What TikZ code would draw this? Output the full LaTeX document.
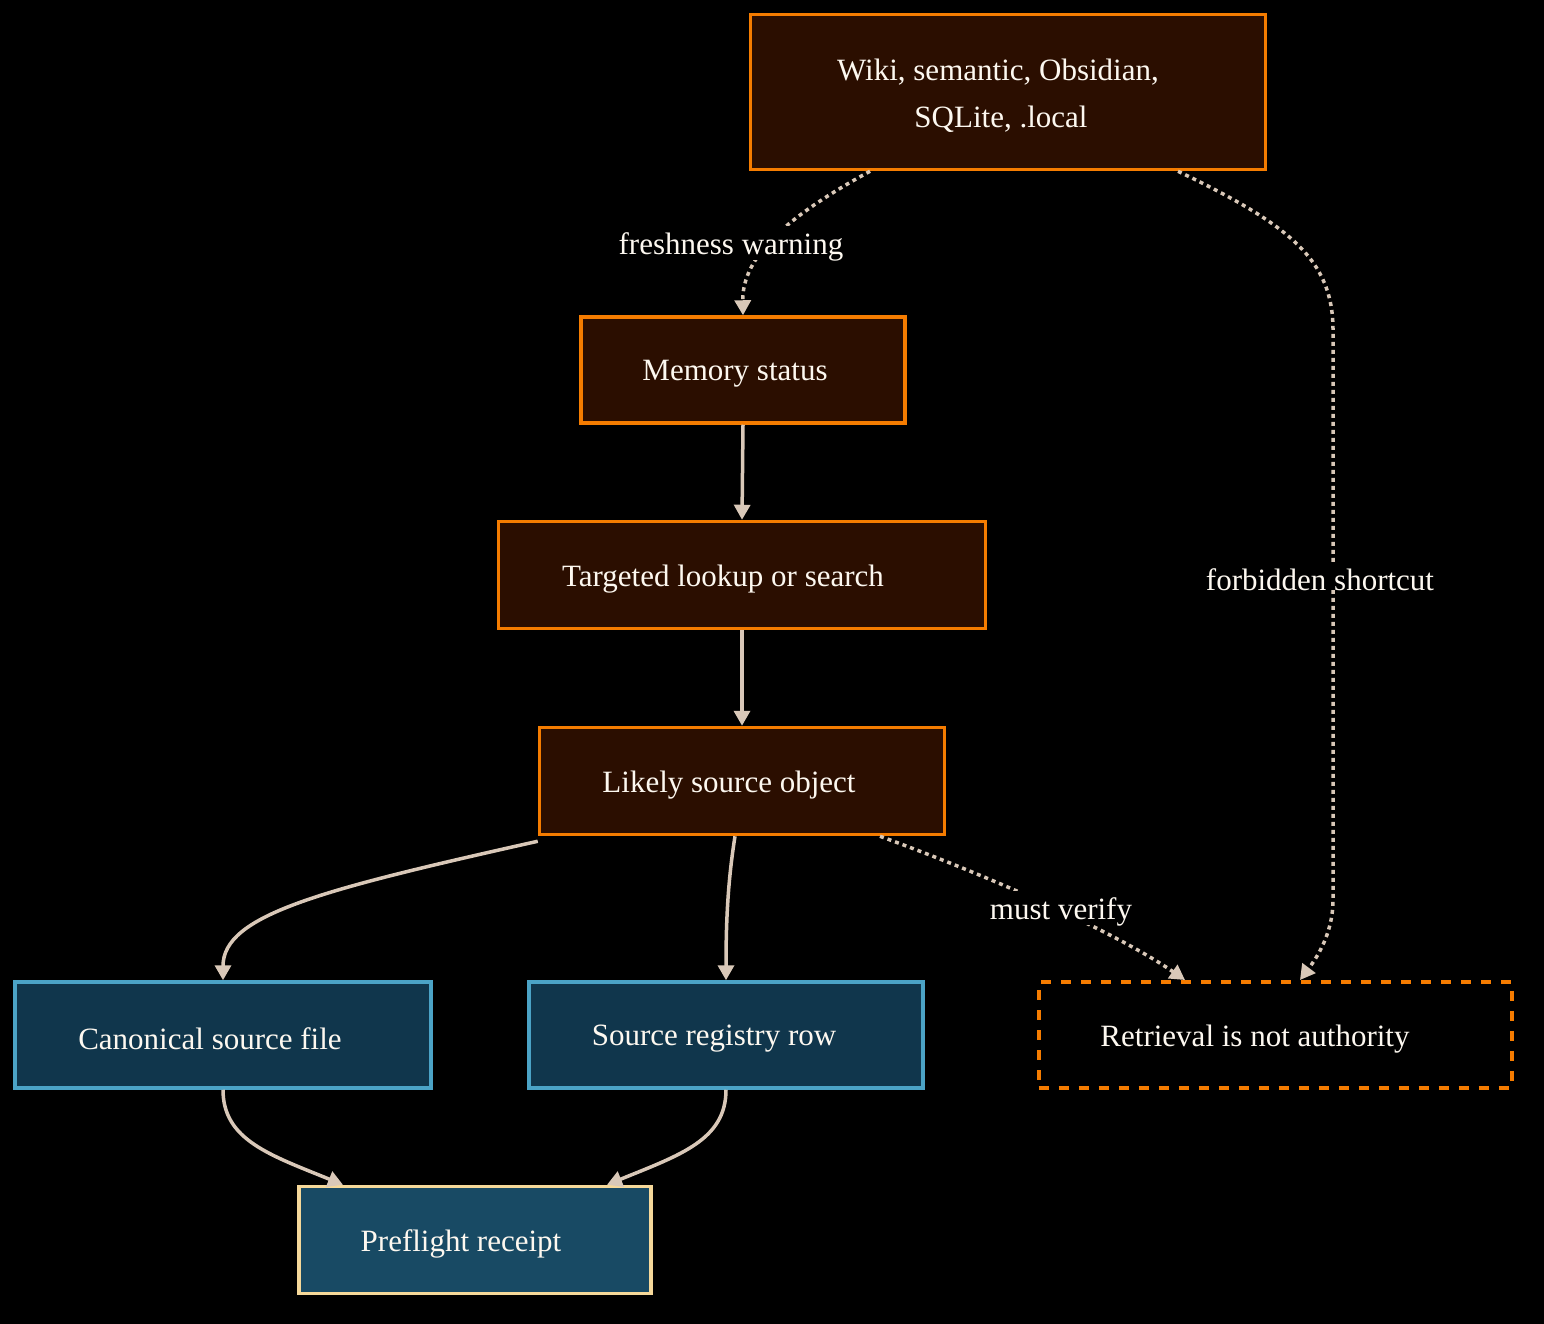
\documentclass[tikz,border=0pt]{standalone}
\usepackage{fontspec}
\setmainfont{Liberation Serif}
\usetikzlibrary{arrows.meta,calc}
\definecolor{bg}{RGB}{0,0,0}
\definecolor{ofill}{RGB}{43,14,0}
\definecolor{oline}{RGB}{245,124,0}
\definecolor{bfill}{RGB}{16,54,76}
\definecolor{bline}{RGB}{75,163,198}
\definecolor{pfill}{RGB}{24,74,100}
\definecolor{pline}{RGB}{245,216,154}
\definecolor{edge}{RGB}{217,200,184}
\definecolor{txt}{RGB}{253,248,240}
\newcommand{\lowtxt}[1]{\raisebox{-4pt}[\height][\depth]{#1}}
\tikzset{
  box/.style={rectangle, line width=3.5pt, text=txt, inner sep=0pt, align=center,
    font=\fontsize{31}{47}\selectfont},
  obox/.style={box, draw=oline, fill=ofill},
  bbox/.style={box, draw=bline, fill=bfill},
  pbox/.style={box, draw=pline, fill=pfill},
  dbox/.style={box, draw=oline, fill=black, dash pattern=on 10pt off 10pt, line width=4pt},
  conn/.style={draw=edge, line width=3.5pt, -{Triangle[length=15pt,width=16pt]}},
  dconn/.style={conn, dash pattern=on 4pt off 4pt},
  elabel/.style={fill=black, text=txt, inner sep=3pt, font=\fontsize{31}{36}\selectfont}
}
\begin{document}
\begin{tikzpicture}[x=1pt,y=-1pt]
\fill[bg] (0,0) rectangle (1544,1324);
\useasboundingbox (0,0) rectangle (1544,1324);

\node[obox, minimum width=515pt, minimum height=155pt] (top) at (1008,92)
  {\lowtxt{Wiki, semantic, Obsidian,\hspace*{20pt}}\\\lowtxt{SQLite, .local\hspace*{14pt}}};
\node[obox, minimum width=324pt, minimum height=106pt] (mem) at (743,370)
  {\lowtxt{Memory status\hspace*{16pt}}};
\node[obox, minimum width=487pt, minimum height=107pt] (tgt) at (742,575)
  {\lowtxt{Targeted lookup or search\hspace*{38pt}}};
\node[obox, minimum width=405pt, minimum height=107pt] (lik) at (742,781)
  {\lowtxt{Likely source object\hspace*{26pt}}};
\node[bbox, minimum width=416pt, minimum height=106pt] (can) at (223,1035)
  {\lowtxt{Canonical source file\hspace*{26pt}}};
\node[bbox, minimum width=394pt, minimum height=106pt] (reg) at (726,1035)
  {\lowtxt{Source registry row\hspace*{24pt}}};
\node[dbox, minimum width=473pt, minimum height=106pt] (ret) at (1275,1035)
  {\lowtxt{Retrieval is not authority\hspace*{40pt}}};
\node[pbox, minimum width=352pt, minimum height=107pt] (pre) at (475,1240)
  {\lowtxt{Preflight receipt\hspace*{28pt}}};

% dotted connectors
\draw[dconn] ([xshift=-138pt]top.south) .. controls (790,215) and (742,255) .. (mem.north);
\node[elabel] (l1) at (731,243) {\lowtxt{freshness warning}};

\draw[dconn] ([xshift=170pt]top.south) .. controls (1290,225) and (1333,260) .. (1333,330)
  -- (1333,900) .. controls (1333,935) and (1315,960) .. ([xshift=25pt]ret.north);
\node[elabel] (l2) at (1320,576) {\lowtxt{forbidden shortcut}};

\draw[dconn] ([xshift=138pt]lik.south) .. controls (1000,880) and (1120,935) .. ([xshift=-90pt]ret.north);
\node[elabel] (l3) at (1061,908) {\lowtxt{must verify}};

% solid connectors
\draw[conn] (mem.south) -- (tgt.north);
\draw[conn] (tgt.south) -- (lik.north);
\draw[conn] ([yshift=-5pt]lik.south west) .. controls (320,890) and (223,915) .. (can.north);
\draw[conn] ([xshift=-7pt]lik.south) .. controls (728,880) and (726,920) .. (reg.north);
\draw[conn] (can.south) .. controls (223,1140) and (270,1155) .. ([xshift=-132pt]pre.north);
\draw[conn] (reg.south) .. controls (726,1140) and (680,1155) .. ([xshift=132pt]pre.north);
\end{tikzpicture}
\end{document}
